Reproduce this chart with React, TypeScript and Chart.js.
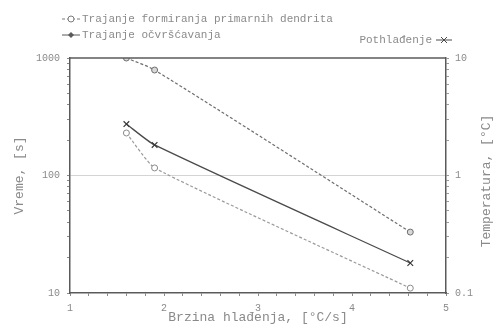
import React, { useEffect, useRef } from "react";
import { Chart, registerables } from "chart.js";

Chart.register(...registerables);

// Cooling rate, °C/s
const coolingRate = [1.6, 1.9, 4.62];
// Solidification time, s
const solidificationTime = [1000, 790, 33];
// Primary dendrite formation time, s
const dendriteTime = [230, 116, 11];
// Undercooling, °C (right axis)
const undercooling = [2.74, 1.82, 0.18];

const leftTicks = [10, 100, 1000];
const rightTicks = [0.1, 1, 10];
const xTicks = [1, 2, 3, 4, 5];

const legendLabels = [
  "Trajanje formiranja primarnih dendrita",
  "Trajanje očvršćavanja",
  "Pothlađenje",
];
const xTitle = "Brzina hlađenja, [°C/s]";
const yTitle = "Vreme, [s]";
const y2Title = "Temperatura, [°C]";

const MONO = "'Liberation Mono', 'DejaVu Sans Mono', monospace";
const TEXT = "#8a8a8a";
const AXIS = "#5a5a5a";

const decorations = {
  id: "decorations",
  afterDraw(chart: any) {
    const { ctx, chartArea } = chart;
    ctx.save();
    // top border of the plot box
    ctx.strokeStyle = AXIS;
    ctx.lineWidth = 1.5;
    ctx.beginPath();
    ctx.moveTo(chartArea.left, chartArea.top);
    ctx.lineTo(chartArea.right, chartArea.top);
    ctx.stroke();

    ctx.fillStyle = TEXT;
    ctx.font = `13px ${MONO}`;
    ctx.textAlign = "center";
    ctx.textBaseline = "middle";
    ctx.fillText(xTitle, (chartArea.left + chartArea.right) / 2, 318);

    ctx.save();
    ctx.translate(20, (chartArea.top + chartArea.bottom) / 2);
    ctx.rotate(-Math.PI / 2);
    ctx.fillText(yTitle, 0, 0);
    ctx.restore();

    ctx.save();
    ctx.translate(487, 181);
    ctx.rotate(-Math.PI / 2);
    ctx.fillText(y2Title, 0, 0);
    ctx.restore();

    // legend
    ctx.font = `11px ${MONO}`;
    ctx.textAlign = "left";
    ctx.lineWidth = 1;

    // item 1: dashed line, open circle
    ctx.strokeStyle = "#7a7a7a";
    ctx.setLineDash([3, 2]);
    ctx.beginPath();
    ctx.moveTo(62, 19);
    ctx.lineTo(80, 19);
    ctx.stroke();
    ctx.setLineDash([]);
    ctx.fillStyle = "#ffffff";
    ctx.beginPath();
    ctx.arc(71, 19, 3, 0, Math.PI * 2);
    ctx.fill();
    ctx.stroke();
    ctx.fillStyle = TEXT;
    ctx.fillText(legendLabels[0], 82, 19);

    // item 2: solid line, filled marker
    ctx.strokeStyle = "#5a5a5a";
    ctx.beginPath();
    ctx.moveTo(62, 35);
    ctx.lineTo(80, 35);
    ctx.stroke();
    ctx.fillStyle = "#5a5a5a";
    ctx.beginPath();
    ctx.moveTo(71, 32);
    ctx.lineTo(74, 35);
    ctx.lineTo(71, 38);
    ctx.lineTo(68, 35);
    ctx.closePath();
    ctx.fill();
    ctx.fillStyle = TEXT;
    ctx.fillText(legendLabels[1], 82, 35);

    // item 3: right-aligned, solid line with cross
    ctx.textAlign = "right";
    ctx.fillText(legendLabels[2], 432, 40);
    ctx.strokeStyle = "#4a4a4a";
    ctx.beginPath();
    ctx.moveTo(436, 40);
    ctx.lineTo(452, 40);
    ctx.moveTo(441, 37);
    ctx.lineTo(447, 43);
    ctx.moveTo(447, 37);
    ctx.lineTo(441, 43);
    ctx.stroke();
    ctx.restore();
  },
};

export default function App() {
  const ref = useRef<HTMLCanvasElement | null>(null);

  useEffect(() => {
    if (!ref.current) return;
    const tickFont = { family: MONO, size: 10 };
    const chart = new Chart(ref.current, {
      type: "line",
      data: {
        datasets: [
          {
            label: legendLabels[1],
            data: coolingRate.map((x, i) => ({ x, y: solidificationTime[i] })),
            yAxisID: "y",
            borderColor: "#6e6e6e",
            borderWidth: 1.2,
            borderDash: [3, 2],
            tension: 0.25,
            pointStyle: "circle",
            pointRadius: 3,
            pointBorderColor: "#6e6e6e",
            pointBackgroundColor: "#d8d8d8",
            pointBorderWidth: 1,
          },
          {
            label: legendLabels[0],
            data: coolingRate.map((x, i) => ({ x, y: dendriteTime[i] })),
            yAxisID: "y",
            borderColor: "#9a9a9a",
            borderWidth: 1.2,
            borderDash: [3, 2],
            tension: 0.15,
            pointStyle: "circle",
            pointRadius: 3,
            pointBorderColor: "#8a8a8a",
            pointBackgroundColor: "#ffffff",
            pointBorderWidth: 1,
          },
          {
            label: legendLabels[2],
            data: coolingRate.map((x, i) => ({ x, y: undercooling[i] })),
            yAxisID: "y2",
            borderColor: "#4a4a4a",
            borderWidth: 1.3,
            tension: 0.2,
            pointStyle: "crossRot",
            pointRadius: 4,
            pointBorderColor: "#3a3a3a",
            pointBorderWidth: 1.2,
          },
        ],
      },
      options: {
        animation: false,
        responsive: true,
        maintainAspectRatio: false,
        layout: { padding: { top: 58, left: 0, right: 0, bottom: 0 } },
        plugins: { legend: { display: false }, tooltip: { enabled: false } },
        scales: {
          x: {
            type: "linear",
            min: 1,
            max: 5,
            afterFit: (s: any) => {
              s.height = 38;
            },
            afterBuildTicks: (s: any) => {
              const t = [];
              for (let i = 0; i <= 20; i++) t.push({ value: 1 + i * 0.2 });
              s.ticks = t;
            },
            ticks: {
              font: tickFont,
              color: TEXT,
              padding: 6,
              maxRotation: 0,
              autoSkip: false,
              callback: (v: any) => {
                const n = Math.round(Number(v) * 100) / 100;
                return xTicks.includes(n) ? String(n) : "";
              },
            },
            grid: {
              drawOnChartArea: false,
              tickLength: 3,
              tickColor: "#8a8a8a",
            },
            border: { color: AXIS, width: 1.5 },
          },
          y: {
            type: "logarithmic",
            position: "left",
            min: 10,
            max: 1000,
            afterFit: (s: any) => {
              s.width = 70;
            },
            afterBuildTicks: (s: any) => {
              const t = [];
              for (let d = 10; d < 1000; d *= 10) {
                for (let k = 1; k < 10; k++) t.push({ value: d * k });
              }
              t.push({ value: 1000 });
              s.ticks = t;
            },
            ticks: {
              font: tickFont,
              color: TEXT,
              padding: 7,
              autoSkip: false,
              callback: (v: any) => (leftTicks.includes(Number(v)) ? String(v) : ""),
            },
            grid: {
              color: (c: any) =>
                c.tick && Number(c.tick.value) === 100 ? "#d4d4d4" : "rgba(0,0,0,0)",
              tickColor: "#8a8a8a",
              tickLength: 3,
            },
            border: { color: AXIS, width: 1.5 },
          },
          y2: {
            type: "logarithmic",
            position: "right",
            min: 0.1,
            max: 10,
            afterFit: (s: any) => {
              s.width = 47;
            },
            afterBuildTicks: (s: any) => {
              const t = [];
              for (let d = 0.1; d < 9; d *= 10) {
                for (let k = 1; k < 10; k++) t.push({ value: Math.round(d * k * 100) / 100 });
              }
              t.push({ value: 10 });
              s.ticks = t;
            },
            ticks: {
              font: tickFont,
              color: TEXT,
              padding: 6,
              autoSkip: false,
              callback: (v: any) => (rightTicks.includes(Number(v)) ? String(v) : ""),
            },
            grid: {
              drawOnChartArea: false,
              tickColor: "#9a9a9a",
              tickLength: 3,
            },
            border: { color: AXIS, width: 1.5 },
          },
        },
      },
      plugins: [decorations],
    });
    return () => chart.destroy();
  }, []);

  return (
    <div style={{ position: "fixed", left: 0, top: 0, width: 493, height: 331, background: "#fff" }}>
      <canvas ref={ref} />
    </div>
  );
}
